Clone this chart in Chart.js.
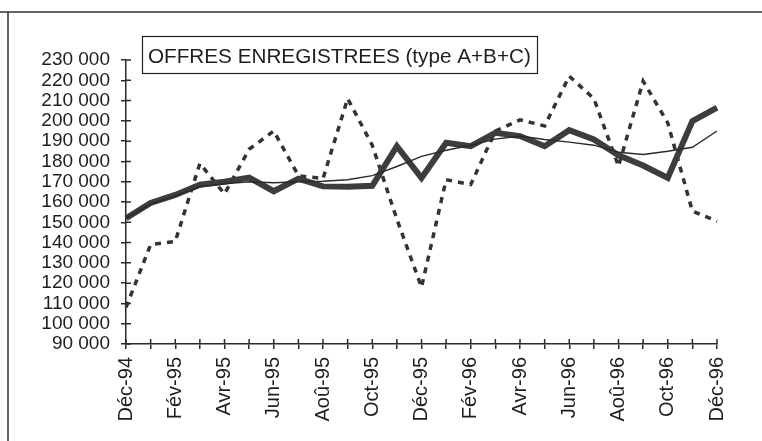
<!DOCTYPE html>
<html>
<head>
<meta charset="utf-8">
<script src="https://cdn.jsdelivr.net/npm/chart.js@4.4.1/dist/chart.umd.min.js"></script>
<style>
html,body{margin:0;padding:0;background:#fff;}
canvas{display:block;}
</style>
</head>
<body>
<canvas id="c" width="762" height="441"></canvas>
<script>
const months = ["Déc-94","Jan-95","Fév-95","Mar-95","Avr-95","Mai-95","Jun-95","Jul-95","Aoû-95","Sep-95","Oct-95","Nov-95","Déc-95","Jan-96","Fév-96","Mar-96","Avr-96","Mai-96","Jun-96","Jul-96","Aoû-96","Sep-96","Oct-96","Nov-96","Déc-96"];
const brutes = [108000,139000,140500,179000,164000,186000,195000,173000,171500,211000,188000,151500,118000,171000,168600,195000,200500,197500,222000,211000,177600,219600,199000,155500,150500];
const cvs = [152000,159500,163500,168500,170000,172000,165300,171500,167700,167500,168000,187500,171900,189200,187500,194100,192500,187500,195400,190800,183000,178000,171900,199900,206500];
const tendance = [152000,159000,163000,167500,169000,170000,169500,170000,170200,171000,173000,177500,182500,185500,188000,191000,192500,190800,189500,188000,184500,183400,185000,187000,195000];
const titre = "OFFRES ENREGISTREES (type A+B+C)";
const yMin = 90000, yMax = 230000, yStep = 10000;

const FONT = '"Liberation Sans", Arial, Helvetica, sans-serif';
const INK = '#2b2b2b';

const decor = {
  id: 'decor',
  beforeDraw(chart) {
    const ctx = chart.ctx;
    ctx.save();
    ctx.fillStyle = '#fff';
    ctx.fillRect(0, 0, chart.width, chart.height);
    ctx.strokeStyle = '#333';
    ctx.lineWidth = 1.5;
    ctx.beginPath();
    ctx.moveTo(0, 12); ctx.lineTo(chart.width, 12);
    ctx.moveTo(8, 12); ctx.lineTo(8, chart.height);
    ctx.stroke();
    ctx.restore();
  },
  afterDraw(chart) {
    const ctx = chart.ctx;
    const xs = chart.scales.x, ys = chart.scales.y;
    ctx.save();
    ctx.strokeStyle = INK;
    ctx.lineWidth = 1.5;
    ctx.beginPath();
    xs.ticks.forEach((t, i) => {
      const px = xs.getPixelForTick(i);
      ctx.moveTo(px, xs.top); ctx.lineTo(px, xs.top - 5);
    });
    ys.ticks.forEach((t, i) => {
      const py = ys.getPixelForTick(i);
      ctx.moveTo(ys.right, py); ctx.lineTo(ys.right + 5, py);
    });
    ctx.stroke();
    // title box
    ctx.lineWidth = 1.2;
    ctx.strokeStyle = '#222';
    ctx.fillStyle = '#fff';
    ctx.fillRect(142, 36, 396, 37);
    ctx.strokeRect(142.5, 36.5, 395, 37);
    ctx.fillStyle = '#1e1e1e';
    ctx.font = '20.7px ' + FONT;
    ctx.textBaseline = 'alphabetic';
    ctx.fillText(titre, 148, 63);
    ctx.restore();
  }
};

new Chart(document.getElementById('c'), {
  type: 'line',
  data: {
    labels: months,
    datasets: [
      { label: 'Données brutes', data: brutes, borderColor: '#333', borderWidth: 3.5, borderDash: [6, 6], pointRadius: 0, tension: 0, fill: false, order: 3 },
      { label: 'CVS', data: cvs, borderColor: '#3d3d3d', borderWidth: 6, pointRadius: 0, tension: 0, fill: false, borderJoinStyle: 'miter', order: 2 },
      { label: 'Tendance', data: tendance, borderColor: '#2a2a2a', borderWidth: 1.4, pointRadius: 0, tension: 0, fill: false, order: 1 }
    ]
  },
  options: {
    responsive: false,
    animation: false,
    devicePixelRatio: 1,
    layout: { padding: { top: 60, right: 45, left: 0, bottom: 0 } },
    plugins: { legend: { display: false }, tooltip: { enabled: false }, title: { display: false } },
    scales: {
      x: {
        type: 'category',
        offset: false,
        afterFit(s) { s.height = 97; },
        grid: { drawOnChartArea: false, drawTicks: true, tickLength: 5, color: INK, lineWidth: 1.5 },
        border: { display: true, color: INK, width: 1.5 },
        ticks: {
          autoSkip: false, maxRotation: 90, minRotation: 90, padding: 8,
          color: '#1e1e1e', font: { family: FONT, size: 20 },
          callback(v, i) { return i % 2 === 0 ? months[i] : ''; }
        }
      },
      y: {
        min: yMin, max: yMax,
        afterFit(s) { s.width = 126; },
        grid: { drawOnChartArea: false, drawTicks: true, tickLength: 5, color: INK, lineWidth: 1.5 },
        border: { display: true, color: INK, width: 1.5 },
        ticks: {
          autoSkip: false, stepSize: yStep, padding: 11, color: '#1e1e1e', font: { family: FONT, size: 19 },
          callback(v) { return String(v).replace(/\B(?=(\d{3})+(?!\d))/g, ' '); }
        }
      }
    }
  },
  plugins: [decor]
});
</script>
</body>
</html>
